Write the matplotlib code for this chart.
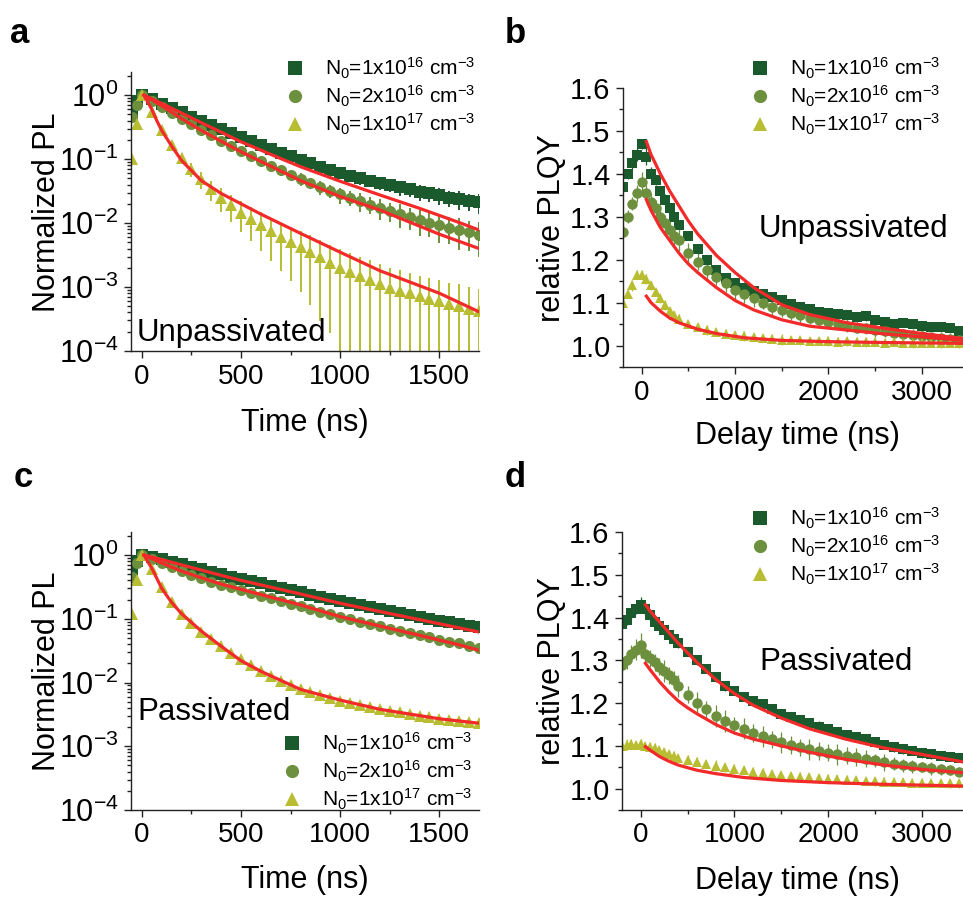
import numpy as np
import matplotlib
matplotlib.use('Agg')
import matplotlib.pyplot as plt
from matplotlib.lines import Line2D
from matplotlib.ticker import MultipleLocator, LogLocator, FormatStrFormatter

plt.rcParams['font.family'] = ['Liberation Sans', 'DejaVu Sans']
plt.rcParams['mathtext.fontset'] = 'custom'
plt.rcParams['mathtext.rm'] = 'Liberation Sans'
plt.rcParams['mathtext.it'] = 'Liberation Sans:italic'
plt.rcParams['mathtext.bf'] = 'Liberation Sans:bold'
plt.rcParams['mathtext.default'] = 'regular'

DG, MG, YG, RED = '#1b5a2c', '#6c903d', '#b8bd32', '#f22a2a'
labels = [r'N$_0$=1x10$^{16}$ cm$^{-3}$',
          r'N$_0$=2x10$^{16}$ cm$^{-3}$',
          r'N$_0$=1x10$^{17}$ cm$^{-3}$']

# ---- TRPL decays (a: unpassivated, c: passivated) ----
t_pl = [-50, -25, 0, 50, 100, 150, 200, 250, 300, 350, 400, 450, 500, 550, 600,
        650, 700, 750, 800, 850, 900, 950, 1000, 1050, 1100, 1150, 1200, 1250,
        1300, 1350, 1400, 1450, 1500, 1550, 1600, 1650, 1700]

a_dg = [0.55, 0.8, 1.0, 0.86, 0.74, 0.63, 0.54, 0.46, 0.40, 0.345, 0.295, 0.255,
        0.22, 0.19, 0.165, 0.143, 0.125, 0.11, 0.097, 0.086, 0.076, 0.068, 0.061,
        0.055, 0.05, 0.046, 0.042, 0.039, 0.036, 0.034, 0.031, 0.029, 0.027,
        0.025, 0.024, 0.022, 0.021]
a_mg = [0.45, 0.7, 1.0, 0.82, 0.66, 0.53, 0.43, 0.35, 0.285, 0.235, 0.195, 0.16,
        0.133, 0.112, 0.094, 0.079, 0.067, 0.057, 0.049, 0.042, 0.037, 0.032,
        0.028, 0.025, 0.022, 0.0195, 0.0175, 0.0155, 0.014, 0.0125, 0.0113,
        0.0102, 0.0093, 0.0085, 0.0078, 0.0072, 0.0066]
a_yg = [0.1, 0.35, 1.0, 0.55, 0.29, 0.165, 0.105, 0.07, 0.048, 0.034, 0.025, 0.019,
        0.0145, 0.0115, 0.0092, 0.0074, 0.006, 0.005, 0.0042, 0.0035, 0.0029,
        0.0024, 0.002, 0.0017, 0.0015, 0.0013, 0.0011, 0.00098, 0.00088, 0.0008,
        0.00072, 0.00066, 0.0006, 0.00055, 0.0005, 0.00046, 0.00042]
# relative error of each point
a_dg_err = [0.05, 0.04, 0.03, 0.03, 0.04, 0.03, 0.05, 0.04, 0.06, 0.05, 0.07, 0.06,
            0.09, 0.08, 0.1, 0.09, 0.12, 0.11, 0.14, 0.13, 0.16, 0.14, 0.18, 0.17,
            0.2, 0.19, 0.23, 0.21, 0.26, 0.24, 0.28, 0.26, 0.3, 0.28, 0.33, 0.3, 0.35]
a_mg_err = [0.06, 0.05, 0.03, 0.04, 0.05, 0.05, 0.07, 0.06, 0.09, 0.08, 0.11, 0.1,
            0.13, 0.12, 0.16, 0.15, 0.19, 0.17, 0.22, 0.2, 0.25, 0.23, 0.28, 0.26,
            0.32, 0.3, 0.36, 0.33, 0.4, 0.37, 0.44, 0.4, 0.48, 0.45, 0.52, 0.5, 0.55]
a_yg_err = [0.1, 0.06, 0.04, 0.06, 0.1, 0.14, 0.2, 0.24, 0.3, 0.34, 0.4, 0.45,
            0.5, 0.55, 0.6, 0.65, 0.7, 0.75, 0.8, 0.85, 0.9, 0.92, 0.95, 0.97,
            1.0, 1.0, 1.05, 1.0, 1.1, 1.05, 1.1, 1.1, 1.15, 1.1, 1.2, 1.15, 1.2]

fa_dg_t = [10, 100, 200, 300, 400, 500, 600, 700, 800, 1000, 1200, 1400, 1600, 1700]
fa_dg = [1.0, 0.74, 0.525, 0.37, 0.263, 0.186, 0.138, 0.102, 0.076, 0.045,
         0.0275, 0.017, 0.0102, 0.0078]
fa_mg_t = [10, 100, 200, 300, 400, 500, 600, 800, 1000, 1200, 1500, 1700]
fa_mg = [1.0, 0.68, 0.43, 0.28, 0.19, 0.13, 0.092, 0.046, 0.026, 0.016, 0.0067, 0.004]
fa_yg_t = [10, 50, 75, 100, 150, 200, 300, 400, 500, 600, 800, 1000, 1200, 1500, 1700]
fa_yg = [1.0, 0.6, 0.4, 0.28, 0.16, 0.095, 0.046, 0.029, 0.02, 0.0138, 0.0069,
         0.0035, 0.0018, 0.0008, 0.00041]

c_dg = [0.55, 0.8, 1.0, 0.93, 0.86, 0.79, 0.72, 0.66, 0.6, 0.55, 0.5, 0.46, 0.42,
        0.39, 0.36, 0.33, 0.305, 0.28, 0.26, 0.24, 0.222, 0.205, 0.19, 0.177,
        0.165, 0.153, 0.142, 0.132, 0.123, 0.115, 0.107, 0.1, 0.094, 0.088,
        0.083, 0.078, 0.074]
c_mg = [0.45, 0.75, 1.0, 0.86, 0.74, 0.64, 0.56, 0.49, 0.43, 0.38, 0.34, 0.31,
        0.28, 0.255, 0.23, 0.21, 0.19, 0.172, 0.157, 0.143, 0.13, 0.119, 0.108,
        0.099, 0.09, 0.083, 0.076, 0.07, 0.064, 0.059, 0.055, 0.051, 0.047,
        0.044, 0.041, 0.038, 0.035]
c_yg = [0.12, 0.4, 1.0, 0.6, 0.31, 0.185, 0.12, 0.085, 0.063, 0.048, 0.037, 0.029,
        0.023, 0.0185, 0.015, 0.0125, 0.0106, 0.0092, 0.008, 0.0071, 0.0063,
        0.0057, 0.0052, 0.0048, 0.0044, 0.0041, 0.0038, 0.0036, 0.0034, 0.0032,
        0.003, 0.0029, 0.0027, 0.0026, 0.0025, 0.0024, 0.0023]
c_dg_err = [0.05, 0.04, 0.02, 0.02, 0.03, 0.02, 0.03, 0.03, 0.04, 0.03, 0.05, 0.04,
            0.05, 0.05, 0.06, 0.05, 0.07, 0.06, 0.08, 0.07, 0.09, 0.08, 0.1, 0.09,
            0.11, 0.1, 0.12, 0.11, 0.13, 0.12, 0.14, 0.13, 0.15, 0.14, 0.16, 0.15, 0.17]
c_mg_err = [0.05, 0.04, 0.02, 0.02, 0.03, 0.03, 0.03, 0.04, 0.04, 0.04, 0.05, 0.05,
            0.06, 0.05, 0.07, 0.06, 0.08, 0.07, 0.09, 0.08, 0.1, 0.09, 0.11, 0.1,
            0.12, 0.11, 0.13, 0.12, 0.14, 0.13, 0.15, 0.14, 0.16, 0.15, 0.17, 0.16, 0.18]
c_yg_err = [0.06, 0.04, 0.02, 0.02, 0.03, 0.03, 0.03, 0.04, 0.04, 0.04, 0.05, 0.05,
            0.05, 0.06, 0.06, 0.06, 0.07, 0.07, 0.07, 0.08, 0.08, 0.08, 0.09, 0.09,
            0.09, 0.1, 0.1, 0.1, 0.1, 0.11, 0.11, 0.11, 0.12, 0.12, 0.12, 0.12, 0.13]

fc_dg_t = [10, 100, 200, 300, 400, 500, 600, 800, 1000, 1200, 1400, 1600, 1700]
fc_dg = [1.0, 0.85, 0.7, 0.58, 0.48, 0.4, 0.34, 0.245, 0.175, 0.13, 0.097, 0.072, 0.062]
fc_mg_t = [10, 100, 200, 300, 400, 500, 600, 800, 1000, 1200, 1400, 1600, 1700]
fc_mg = [1.0, 0.75, 0.56, 0.44, 0.35, 0.29, 0.24, 0.165, 0.108, 0.077, 0.055, 0.039, 0.032]
fc_yg_t = [10, 50, 100, 150, 200, 300, 400, 500, 600, 800, 1000, 1200, 1500, 1700]
fc_yg = [1.0, 0.62, 0.3, 0.18, 0.12, 0.064, 0.037, 0.022, 0.015, 0.0078, 0.0053,
         0.0038, 0.0027, 0.0023]

# ---- relative PLQY (b: unpassivated, d: passivated) ----
t_qy = [-200, -150, -100, -50, 0, 50, 100, 150, 200, 250, 300, 350, 400, 500, 600,
        700, 800, 900, 1000, 1100, 1200, 1300, 1400, 1500, 1600, 1700, 1800, 1900,
        2000, 2100, 2200, 2300, 2400, 2500, 2600, 2700, 2800, 2900, 3000, 3100,
        3200, 3300, 3400]

b_dg = [1.37, 1.40, 1.425, 1.445, 1.47, 1.44, 1.40, 1.385, 1.36, 1.34, 1.32, 1.30,
        1.28, 1.255, 1.225, 1.20, 1.175, 1.158, 1.145, 1.135, 1.128, 1.12, 1.112,
        1.105, 1.097, 1.09, 1.085, 1.078, 1.075, 1.073, 1.07, 1.066, 1.068, 1.06,
        1.055, 1.05, 1.053, 1.05, 1.045, 1.043, 1.044, 1.04, 1.035]
b_mg = [1.265, 1.30, 1.33, 1.355, 1.38, 1.355, 1.335, 1.32, 1.30, 1.285, 1.27,
        1.255, 1.245, 1.215, 1.195, 1.175, 1.16, 1.145, 1.13, 1.12, 1.11, 1.10,
        1.09, 1.082, 1.075, 1.07, 1.065, 1.06, 1.055, 1.05, 1.046, 1.042, 1.04,
        1.036, 1.033, 1.03, 1.027, 1.025, 1.022, 1.02, 1.018, 1.016, 1.014]
b_yg = [1.10, 1.12, 1.14, 1.165, 1.165, 1.155, 1.14, 1.125, 1.11, 1.095, 1.08,
        1.07, 1.062, 1.05, 1.043, 1.037, 1.032, 1.028, 1.025, 1.022, 1.02, 1.018,
        1.016, 1.014, 1.013, 1.012, 1.011, 1.011, 1.01, 1.009, 1.01, 1.009, 1.008,
        1.008, 1.007, 1.008, 1.007, 1.006, 1.006, 1.006, 1.005, 1.006, 1.005]
b_dg_err = [0.012, 0.012, 0.015, 0.015, 0.012, 0.02, 0.015, 0.012, 0.012, 0.012,
            0.01, 0.012, 0.01, 0.01, 0.012, 0.01, 0.012, 0.01, 0.01, 0.012, 0.01,
            0.01, 0.012, 0.01, 0.01, 0.012, 0.01, 0.01, 0.012, 0.01, 0.01, 0.012,
            0.01, 0.01, 0.012, 0.01, 0.01, 0.012, 0.01, 0.01, 0.012, 0.01, 0.01]
b_mg_err = [0.015, 0.015, 0.015, 0.02, 0.025, 0.02, 0.02, 0.02, 0.025, 0.02, 0.025,
            0.02, 0.025, 0.025, 0.02, 0.025, 0.02, 0.02, 0.025, 0.02, 0.02, 0.015,
            0.02, 0.015, 0.015, 0.02, 0.015, 0.015, 0.015, 0.012, 0.015, 0.012,
            0.012, 0.015, 0.012, 0.012, 0.012, 0.01, 0.012, 0.01, 0.01, 0.01, 0.01]
b_yg_err = [0.01, 0.01, 0.012, 0.01, 0.01, 0.012, 0.01, 0.01, 0.01, 0.012, 0.01,
            0.01, 0.012, 0.01, 0.01, 0.012, 0.01, 0.01, 0.01, 0.012, 0.01, 0.01,
            0.01, 0.012, 0.01, 0.01, 0.01, 0.01, 0.012, 0.01, 0.01, 0.01, 0.012,
            0.01, 0.01, 0.01, 0.01, 0.012, 0.01, 0.01, 0.01, 0.01, 0.01]

fb_dg_t = [50, 100, 200, 300, 400, 500, 600, 800, 1000, 1200, 1500, 1800, 2200, 2600, 3000, 3450]
fb_dg = [1.475, 1.445, 1.40, 1.36, 1.325, 1.29, 1.26, 1.21, 1.17, 1.135, 1.095,
         1.072, 1.053, 1.04, 1.028, 1.016]
fb_mg_t = [50, 100, 200, 300, 400, 500, 600, 800, 1000, 1200, 1500, 1800, 2200, 2600, 3000, 3450]
fb_mg = [1.34, 1.315, 1.275, 1.245, 1.215, 1.19, 1.17, 1.135, 1.105, 1.083, 1.06,
         1.045, 1.036, 1.027, 1.02, 1.012]
fb_yg_t = [50, 100, 200, 300, 400, 600, 800, 1100, 1500, 2000, 2600, 3450]
fb_yg = [1.115, 1.10, 1.08, 1.064, 1.053, 1.038, 1.028, 1.018, 1.012, 1.009, 1.007, 1.005]

d_dg = [1.385, 1.395, 1.41, 1.42, 1.43, 1.42, 1.405, 1.39, 1.38, 1.37, 1.36, 1.35,
        1.34, 1.32, 1.30, 1.28, 1.26, 1.24, 1.228, 1.215, 1.205, 1.198, 1.185,
        1.175, 1.168, 1.16, 1.153, 1.145, 1.14, 1.133, 1.126, 1.12, 1.115, 1.11,
        1.103, 1.098, 1.092, 1.088, 1.083, 1.08, 1.077, 1.075, 1.072]
d_mg = [1.29, 1.30, 1.315, 1.325, 1.335, 1.315, 1.305, 1.295, 1.285, 1.275, 1.265,
        1.255, 1.24, 1.22, 1.20, 1.185, 1.17, 1.158, 1.148, 1.14, 1.13, 1.122,
        1.115, 1.108, 1.102, 1.097, 1.092, 1.088, 1.084, 1.08, 1.077, 1.074, 1.07,
        1.066, 1.062, 1.058, 1.055, 1.052, 1.05, 1.048, 1.045, 1.043, 1.04]
d_yg = [1.10, 1.103, 1.105, 1.102, 1.105, 1.10, 1.098, 1.095, 1.09, 1.085, 1.08,
        1.076, 1.072, 1.068, 1.063, 1.058, 1.054, 1.05, 1.047, 1.044, 1.04, 1.037,
        1.034, 1.032, 1.03, 1.028, 1.026, 1.024, 1.023, 1.022, 1.021, 1.02, 1.018,
        1.017, 1.016, 1.015, 1.015, 1.014, 1.014, 1.013, 1.013, 1.012, 1.012]
d_dg_err = [0.012, 0.012, 0.015, 0.012, 0.018, 0.015, 0.012, 0.012, 0.012, 0.01,
            0.012, 0.01, 0.012, 0.01, 0.012, 0.01, 0.01, 0.012, 0.01, 0.01, 0.012,
            0.01, 0.012, 0.01, 0.01, 0.012, 0.01, 0.012, 0.01, 0.012, 0.01, 0.01,
            0.012, 0.01, 0.01, 0.012, 0.01, 0.01, 0.012, 0.01, 0.01, 0.01, 0.01]
d_mg_err = [0.015, 0.02, 0.02, 0.025, 0.03, 0.025, 0.02, 0.02, 0.02, 0.025, 0.02,
            0.02, 0.025, 0.02, 0.025, 0.02, 0.025, 0.025, 0.02, 0.025, 0.02, 0.025,
            0.02, 0.025, 0.02, 0.02, 0.025, 0.02, 0.02, 0.025, 0.02, 0.02, 0.02,
            0.015, 0.02, 0.015, 0.015, 0.015, 0.012, 0.015, 0.012, 0.012, 0.01]
d_yg_err = [0.01, 0.012, 0.01, 0.01, 0.012, 0.01, 0.01, 0.012, 0.01, 0.01, 0.01,
            0.012, 0.01, 0.01, 0.01, 0.01, 0.012, 0.01, 0.01, 0.01, 0.01, 0.012,
            0.01, 0.01, 0.01, 0.01, 0.01, 0.01, 0.012, 0.01, 0.01, 0.01, 0.01,
            0.01, 0.01, 0.01, 0.01, 0.01, 0.01, 0.01, 0.01, 0.01, 0.01]

fd_dg_t = [50, 100, 200, 300, 400, 600, 800, 1000, 1200, 1500, 1800, 2200, 2600, 3000, 3450]
fd_dg = [1.43, 1.415, 1.39, 1.365, 1.34, 1.295, 1.255, 1.222, 1.195, 1.165, 1.14,
         1.115, 1.095, 1.08, 1.062]
fd_mg_t = [50, 100, 200, 300, 400, 500, 600, 800, 1000, 1200, 1500, 1800, 2200, 2600, 3000, 3450]
fd_mg = [1.293, 1.278, 1.25, 1.226, 1.205, 1.189, 1.175, 1.15, 1.13, 1.116, 1.10,
         1.085, 1.068, 1.055, 1.045, 1.037]
fd_yg_t = [50, 100, 200, 300, 400, 600, 800, 1100, 1500, 2000, 2600, 3450]
fd_yg = [1.098, 1.09, 1.075, 1.064, 1.055, 1.043, 1.035, 1.026, 1.019, 1.014, 1.01, 1.006]

COLORS = [DG, MG, YG]
MARKERS = ['s', 'o', '^']
W, H = 963.0, 899.0


def px_axes(l, t, r, b):
    return [l / W, 1 - b / H, (r - l) / W, (b - t) / H]


def style(ax, ysize=20):
    for s in ['top', 'right']:
        ax.spines[s].set_visible(False)
    for s in ['left', 'bottom']:
        ax.spines[s].set_linewidth(1.0)
        ax.spines[s].set_color('#222222')
    ax.tick_params(which='both', direction='out', width=1.0, color='#222222', pad=4)
    ax.tick_params(axis='x', labelsize=20)
    ax.tick_params(axis='y', labelsize=ysize)
    ax.tick_params(which='major', length=5)
    ax.tick_params(which='minor', length=3)


def legend(ax, x, y):
    h = [Line2D([], [], ls='none', marker=m, color=c, ms=9.5, mew=0)
         for m, c in zip(MARKERS, COLORS)]
    ax.legend(h, labels, loc='upper left', bbox_to_anchor=(x / W, 1 - y / H),
              bbox_transform=fig.transFigure, frameon=False, fontsize=15,
              borderpad=0, borderaxespad=0, handlelength=0.9,
              handletextpad=0.95, labelspacing=0.12)


def pl_panel(ax, series, errs, fits):
    for v, e, c, m in zip(series, errs, COLORS, MARKERS):
        v = np.array(v)
        ax.errorbar(t_pl, v, yerr=v * np.array(e), fmt=m, color=c, ms=8, mew=0,
                    elinewidth=1.4, capsize=3.5, capthick=1.1)
    for ft, fv in fits:
        ax.plot(ft, fv, color=RED, lw=2.3, zorder=5)
    ax.set_yscale('log')
    ax.set_ylim(1e-4, 2.3)
    ax.set_xlim(-55, 1700)
    ax.xaxis.set_major_locator(MultipleLocator(500))
    ax.xaxis.set_minor_locator(MultipleLocator(250))
    ax.yaxis.set_major_locator(LogLocator(base=10, numticks=10))
    ax.yaxis.set_minor_locator(LogLocator(base=10, subs=np.arange(2, 10), numticks=20))
    style(ax, ysize=22)


def qy_panel(ax, series, errs, fits):
    for v, e, c, m in zip(series, errs, COLORS, MARKERS):
        ax.errorbar(t_qy, v, yerr=e, fmt=m, color=c, ms=7.5, mew=0,
                    elinewidth=0.9, capsize=2.5, capthick=0.9)
    for ft, fv in fits:
        ax.plot(ft, fv, color=RED, lw=2.3, zorder=5)
    ax.set_xlim(-200, 3440)
    ax.set_ylim(0.95, 1.6)
    ax.xaxis.set_major_locator(MultipleLocator(1000))
    ax.xaxis.set_minor_locator(MultipleLocator(500))
    ax.yaxis.set_major_locator(MultipleLocator(0.1))
    ax.yaxis.set_minor_locator(MultipleLocator(0.05))
    ax.yaxis.set_major_formatter(FormatStrFormatter('%.1f'))
    style(ax, ysize=21)


fig = plt.figure(figsize=(9.63, 8.99), dpi=100)
ax_a = fig.add_axes(px_axes(131, 72, 479, 351))
ax_b = fig.add_axes(px_axes(623, 88, 963, 367))
ax_c = fig.add_axes(px_axes(131, 532, 479, 810))
ax_d = fig.add_axes(px_axes(622, 532, 963, 810))

pl_panel(ax_a, [a_dg, a_mg, a_yg], [a_dg_err, a_mg_err, a_yg_err],
         [(fa_dg_t, fa_dg), (fa_mg_t, fa_mg), (fa_yg_t, fa_yg)])
pl_panel(ax_c, [c_dg, c_mg, c_yg], [c_dg_err, c_mg_err, c_yg_err],
         [(fc_dg_t, fc_dg), (fc_mg_t, fc_mg), (fc_yg_t, fc_yg)])
qy_panel(ax_b, [b_dg, b_mg, b_yg], [b_dg_err, b_mg_err, b_yg_err],
         [(fb_dg_t, fb_dg), (fb_mg_t, fb_mg), (fb_yg_t, fb_yg)])
qy_panel(ax_d, [d_dg, d_mg, d_yg], [d_dg_err, d_mg_err, d_yg_err],
         [(fd_dg_t, fd_dg), (fd_mg_t, fd_mg), (fd_yg_t, fd_yg)])

legend(ax_a, 286, 56)
legend(ax_b, 751, 56)
legend(ax_c, 283, 731)
legend(ax_d, 751, 506)

# axis labels
lab = dict(fontsize=22, ha='center', va='center')
fig.text(47 / W, 1 - 212 / H, 'Normalized PL', rotation=90, **lab)
fig.text(47 / W, 1 - 671 / H, 'Normalized PL', rotation=90, **lab)
fig.text(552 / W, 1 - 228 / H, 'relative PLQY', rotation=90, **lab)
fig.text(552 / W, 1 - 671 / H, 'relative PLQY', rotation=90, **lab)
fig.text(305 / W, 1 - 423 / H, 'Time (ns)', **lab)
fig.text(305 / W, 1 - 880 / H, 'Time (ns)', **lab)
fig.text(797 / W, 1 - 436 / H, 'Delay time (ns)', **lab)
fig.text(797 / W, 1 - 881 / H, 'Delay time (ns)', **lab)

# sample notes
note = dict(fontsize=22.5, ha='left', va='center')
fig.text(137 / W, 1 - 333 / H, 'Unpassivated', **note)
fig.text(759 / W, 1 - 229 / H, 'Unpassivated', **note)
fig.text(137 / W, 1 - 712 / H, 'Passivated', **note)
fig.text(759 / W, 1 - 662 / H, 'Passivated', **note)

# panel letters
let = dict(fontsize=25, fontweight='bold', ha='left', va='baseline')
fig.text(10 / W, 1 - 43 / H, 'a', **let)
fig.text(505 / W, 1 - 43 / H, 'b', **let)
fig.text(14 / W, 1 - 487 / H, 'c', **let)
fig.text(505 / W, 1 - 487 / H, 'd', **let)

fig.savefig('out.png', dpi=100)
